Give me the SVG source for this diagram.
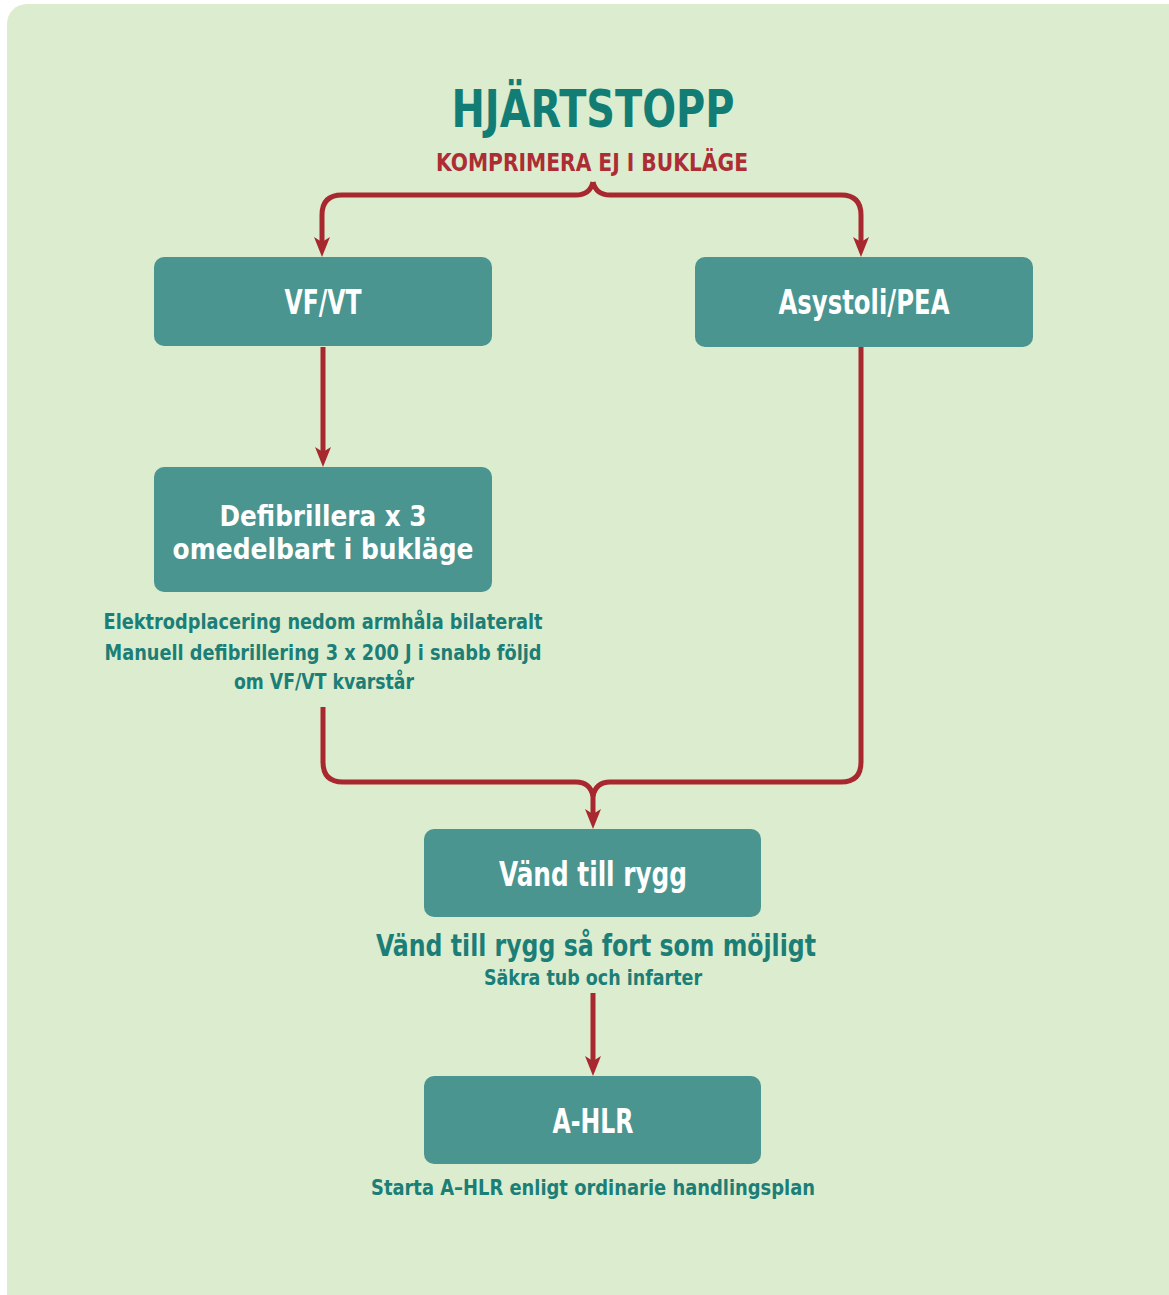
<svg xmlns="http://www.w3.org/2000/svg" width="1169" height="1295" viewBox="0 0 1169 1295">
  <style>
    .bg { fill: #dcecce; }
    .box { fill: #4a9590; }
    .conn { fill: none; stroke: #a8282f; stroke-width: 5; stroke-linejoin: round; }
    .t { font-family: "DejaVu Sans Condensed", "DejaVu Sans", sans-serif; font-weight: bold; text-anchor: middle; font-stretch: condensed; }
    .title { fill: #117d74; font-size: 52px; }
    .warn { fill: #ad2d35; font-size: 25px; }
    .btxt { fill: #ffffff; font-size: 33px; }
    .btxt2 { fill: #ffffff; font-size: 29px; }
    .note { fill: #1b7e77; font-size: 21px; }
    .note2 { fill: #1b7e77; font-size: 30px; }
  </style>
  <defs>
    <marker id="ah" viewBox="0 0 20 20" refX="10" refY="10" markerWidth="20" markerHeight="20" markerUnits="userSpaceOnUse" orient="auto">
      <path d="M0,2 L20,10 L0,18 L5,10 Z" fill="#a8282f"/>
    </marker>
  </defs>

  <rect class="bg" x="7" y="4" width="1200" height="1320" rx="20"/>

  <g id="title">
    <text class="t title" x="593" y="127" textLength="283" lengthAdjust="spacingAndGlyphs">HJÄRTSTOPP</text>
    <text class="t warn" x="592" y="171" textLength="312" lengthAdjust="spacingAndGlyphs">KOMPRIMERA EJ I BUKLÄGE</text>
  </g>

  <g id="connectors">
    <path class="conn" d="M593,182 Q590,195 576,195 H342 Q322,195 322,215 V247" marker-end="url(#ah)"/>
    <path class="conn" d="M593,182 Q596,195 610,195 H841 Q861,195 861,215 V247" marker-end="url(#ah)"/>
    <path class="conn" d="M323,347 V457" marker-end="url(#ah)"/>
    <path class="conn" d="M323,707 V762 Q323,782 343,782 H576 Q590,782 593,796"/>
    <path class="conn" d="M861,347 V762 Q861,782 841,782 H610 Q596,782 593,796"/>
    <path class="conn" d="M593,794 V819" marker-end="url(#ah)"/>
    <path class="conn" d="M593,993 V1066" marker-end="url(#ah)"/>
  </g>

  <g id="node-vfvt">
    <rect class="box" x="154" y="257" width="338" height="89" rx="10"/>
    <text class="t btxt" x="323" y="314" textLength="77" lengthAdjust="spacingAndGlyphs">VF/VT</text>
  </g>

  <g id="node-asystoli">
    <rect class="box" x="695" y="257" width="338" height="90" rx="10"/>
    <text class="t btxt" x="864" y="314" textLength="171" lengthAdjust="spacingAndGlyphs">Asystoli/PEA</text>
  </g>

  <g id="node-defib">
    <rect class="box" x="154" y="467" width="338" height="125" rx="10"/>
    <text class="t btxt2" x="323" y="526" textLength="207" lengthAdjust="spacingAndGlyphs">Defibrillera x 3</text>
    <text class="t btxt2" x="323" y="559" textLength="301" lengthAdjust="spacingAndGlyphs">omedelbart i bukläge</text>
    <text class="t note" x="323" y="629" textLength="439" lengthAdjust="spacingAndGlyphs">Elektrodplacering nedom armhåla bilateralt</text>
    <text class="t note" x="323" y="660" textLength="437" lengthAdjust="spacingAndGlyphs">Manuell defibrillering 3 x 200 J i snabb följd</text>
    <text class="t note" x="324" y="689" textLength="180" lengthAdjust="spacingAndGlyphs">om VF/VT kvarstår</text>
  </g>

  <g id="node-vand">
    <rect class="box" x="424" y="829" width="337" height="88" rx="10"/>
    <text class="t btxt" x="593" y="886" textLength="188" lengthAdjust="spacingAndGlyphs">Vänd till rygg</text>
    <text class="t note2" x="596" y="956" textLength="440" lengthAdjust="spacingAndGlyphs">Vänd till rygg så fort som möjligt</text>
    <text class="t note" x="593" y="985" textLength="218" lengthAdjust="spacingAndGlyphs">Säkra tub och infarter</text>
  </g>

  <g id="node-ahlr">
    <rect class="box" x="424" y="1076" width="337" height="88" rx="10"/>
    <text class="t btxt" x="593" y="1133" textLength="81" lengthAdjust="spacingAndGlyphs">A-HLR</text>
    <text class="t note" x="593" y="1195" textLength="444" lengthAdjust="spacingAndGlyphs">Starta A–HLR enligt ordinarie handlingsplan</text>
  </g>
</svg>
